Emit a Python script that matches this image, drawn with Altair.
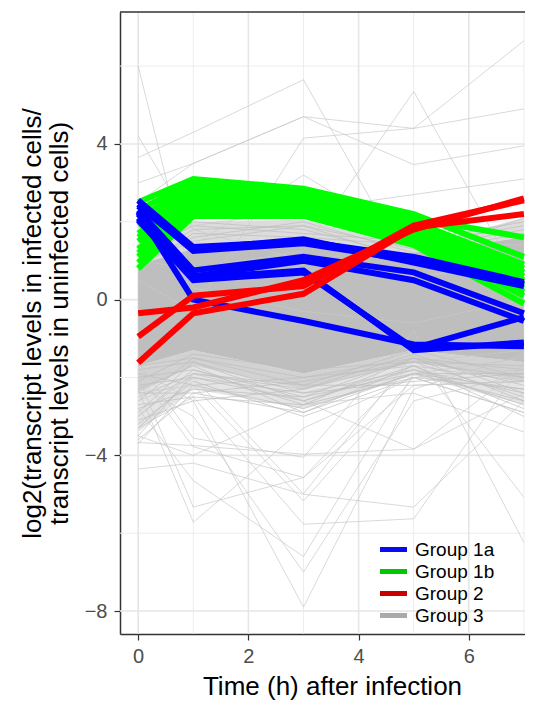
import altair as alt
import pandas as pd

times = [0, 1, 3, 5, 7]
groups = ["Group 1a", "Group 1b", "Group 2", "Group 3"]
legend_colors = ["#0A0AEE", "#00C800", "#C80000", "#AAAAAA"]

blue_lines = [
    [2.55, 1.35, 1.50, 1.10, 0.45],
    [2.45, 1.25, 1.45, 1.00, 0.40],
    [2.40, 1.30, 1.55, 0.95, 0.35],
    [2.30, 0.75, 1.10, 0.70, -0.35],
    [2.20, 0.60, 1.00, 0.50, -0.55],
    [2.10, 0.55, 0.75, -1.30, -1.10],
    [2.05, 0.50, 0.70, -1.25, -0.45],
    [2.25, 0.00, -0.55, -1.15, -1.20],
]
green_lines = [
    [2.50, 3.10, 2.85, 2.20, 1.10],
    [2.30, 3.00, 2.80, 2.10, 1.60],
    [2.10, 2.90, 2.75, 2.00, 0.90],
    [1.90, 2.80, 2.70, 1.95, 0.80],
    [1.70, 2.70, 2.60, 1.90, 0.70],
    [1.50, 2.60, 2.50, 1.80, 0.60],
    [1.30, 2.50, 2.40, 1.70, 0.40],
    [1.10, 2.35, 2.30, 1.60, 0.30],
    [0.95, 2.25, 2.20, 1.50, 0.10],
    [0.80, 2.15, 2.15, 1.40, -0.10],
    [1.20, 2.40, 2.50, 1.75, 0.50],
    [1.60, 2.55, 2.35, 1.65, 0.20],
]
red_lines = [
    [-0.35, -0.20, 0.50, 1.80, 2.60],
    [-0.95, 0.10, 0.35, 1.90, 2.55],
    [-1.62, -0.35, 0.15, 1.85, 2.20],
]
# density bands of the ~hundreds of Group 3 lines
gray_core_upper = [0.9, 1.3, 1.4, 1.2, 1.6]
gray_core_lower = [-1.7, -1.3, -1.9, -1.3, -1.6]
gray_semi_upper = [0.9, 2.0, 2.05, 1.35, 2.1]
gray_semi_mid = [-2.4, -1.7, -2.3, -1.6, -2.1]
gray_semi_lower = [-3.4, -2.3, -2.8, -1.95, -2.7]
gray_fringe_lines = [
    [-1.7, -1.5, -2.2, -1.3, -2.0],
    [-2.1, -1.4, -1.8, -1.6, -1.7],
    [-2.5, -1.9, -2.3, -1.4, -2.4],
    [-1.9, -2.2, -2.0, -1.5, -1.8],
    [-2.9, -1.6, -2.6, -1.7, -2.1],
    [-3.3, -2.0, -2.4, -1.8, -2.7],
    [-2.3, -1.7, -2.9, -1.9, -2.3],
    [-3.6, -2.4, -2.1, -1.6, -2.5],
    [-2.7, -2.5, -2.7, -2.0, -2.9],
    [-3.0, -1.8, -2.5, -1.5, -2.2],
    [-1.8, -1.6, -2.4, -2.1, -1.9],
    [-3.7, -2.2, -2.8, -1.9, -2.6],
    [-2.6, -1.5, -2.0, -1.7, -2.8],
    [-3.1, -2.6, -2.3, -1.6, -2.0],
    [-2.2, -2.0, -2.6, -1.8, -2.4],
    [-3.5, -1.9, -2.2, -2.2, -2.1],
    [-2.0, -1.8, -2.7, -1.5, -2.6],
    [-2.8, -2.3, -2.5, -1.9, -1.9],
    [-3.2, -2.1, -3.0, -2.0, -2.3],
    [-2.4, -2.4, -2.9, -1.7, -3.0],
    [1.0, 1.8, 1.9, 1.3, 1.8],
    [1.2, 1.9, 1.7, 1.5, 2.0],
    [0.9, 1.6, 2.0, 1.2, 1.7],
    [1.1, 2.0, 1.8, 1.1, 2.1],
    [0.8, 1.7, 1.6, 1.4, 1.9],
    [1.0, 1.5, 1.9, 1.0, 1.6],
]
gray_outlier_lines = [
    [6.00, 0.30, -0.30, -0.60, 0.00],
    [4.20, 1.80, 1.00, 0.60, 0.80],
    [3.65, 4.30, 5.65, 0.60, 0.90],
    [3.00, 3.50, 4.70, 4.40, 6.65],
    [2.50, 3.50, 4.70, 3.47, 3.95],
    [0.50, -0.30, 4.15, 4.40, 4.90],
    [1.00, 0.80, 1.25, 5.35, 0.30],
    [1.20, 1.40, 3.20, 1.50, 1.40],
    [1.60, 1.90, 2.30, 2.70, 3.10],
    [-3.67, -3.75, -3.97, -3.84, -2.40],
    [-4.35, -4.20, -5.00, -5.33, -2.60],
    [-2.30, -5.72, -3.30, -2.00, -1.80],
    [-2.00, -5.33, -4.57, -2.20, -2.10],
    [-2.80, -4.65, -6.60, -1.90, -1.50],
    [-1.80, -2.60, -7.90, -2.30, -1.40],
    [-2.20, -3.00, -7.00, -2.60, -1.90],
    [-3.30, -2.50, -5.77, -5.63, -1.60],
    [-1.60, -3.56, -4.05, -0.80, -6.24],
    [-2.60, -2.00, -4.99, -1.40, -5.08],
    [-3.00, -1.90, -2.60, -3.84, -1.70],
    [-1.90, -3.78, -4.57, -1.60, -1.30],
    [-2.40, -2.20, -5.17, -2.00, -2.90],
    [-3.50, -4.00, -2.70, -2.40, -3.40],
]

x_major = [0, 2, 4, 6]
x_minor = [1, 3, 5, 7]
y_major = [-8, -4, 0, 4]
y_minor = [-6, -2, 2, 6]

x_domain = [-0.33, 7.02]
y_domain = [-8.59, 7.39]


def to_long(lines, prefix):
    rows = []
    for i, vals in enumerate(lines):
        for t, v in zip(times, vals):
            rows.append({"id": f"{prefix}{i}", "time": t, "value": v})
    return pd.DataFrame(rows)


FONT = "Liberation Sans"
YS = alt.Scale(domain=y_domain, nice=False, zero=False)

X = alt.X(
    "time:Q",
    scale=alt.Scale(domain=x_domain, nice=False, zero=False),
    axis=alt.Axis(
        values=x_major, grid=False, format="d",
        labelFontSize=20, labelColor="#4D4D4D", labelPadding=6,
        tickSize=6, tickWidth=1.2, tickColor="#333333",
        domainColor="#333333", domainWidth=1.5,
        title="Time (h) after infection", titleFontSize=26, titleFontWeight="normal",
        titleColor="black", titleX=212, titleY=60, titleBaseline="alphabetic",
    ),
)
Y = alt.Y(
    "value:Q",
    scale=YS,
    axis=alt.Axis(
        values=y_major, grid=False, format="d",
        labelFontSize=20, labelColor="#4D4D4D", labelPadding=7,
        tickSize=6, tickWidth=1.2, tickColor="#333333",
        domainColor="#333333", domainWidth=1.5,
        title=["log2(transcript levels in infected cells/",
               "transcript levels in uninfected cells)"],
        titleFontSize=26, titleFontWeight="normal", titleColor="black",
        titleLineHeight=27, titleX=-88, titleY=311, titleBaseline="middle",
        titleAlign="center",
    ),
)

vgrid = pd.DataFrame({"time": x_major + x_minor,
                      "kind": ["major"] * len(x_major) + ["minor"] * len(x_minor)})
hgrid = pd.DataFrame({"value": y_major + y_minor,
                      "kind": ["major"] * len(y_major) + ["minor"] * len(y_minor)})

vgrid_major = alt.Chart(vgrid).transform_filter("datum.kind == 'major'").mark_rule(
    color="#E6E6E6", strokeWidth=1.6).encode(x=X)
vgrid_minor = alt.Chart(vgrid).transform_filter("datum.kind == 'minor'").mark_rule(
    color="#EDEDED", strokeWidth=1.0).encode(x=X)
hgrid_major = alt.Chart(hgrid).transform_filter("datum.kind == 'major'").mark_rule(
    color="#E6E6E6", strokeWidth=1.6).encode(y=Y)
hgrid_minor = alt.Chart(hgrid).transform_filter("datum.kind == 'minor'").mark_rule(
    color="#EDEDED", strokeWidth=1.0).encode(y=Y)

band_df = pd.DataFrame({
    "time": times,
    "core_lo": gray_core_lower, "core_hi": gray_core_upper,
    "semi_hi": gray_semi_upper, "semi_mid": gray_semi_mid, "semi_lo": gray_semi_lower,
})
band_outer = alt.Chart(band_df).mark_area(color="#E4E4E4").encode(
    x=X, y=alt.Y("semi_lo:Q", scale=YS), y2="semi_mid:Q")
band_inner = alt.Chart(band_df).mark_area(color="#D2D2D2").encode(
    x=X, y=alt.Y("semi_mid:Q", scale=YS), y2="core_lo:Q")
band_top = alt.Chart(band_df).mark_area(color="#DCDCDC").encode(
    x=X, y=alt.Y("core_hi:Q", scale=YS), y2="semi_hi:Q")
core = alt.Chart(band_df).mark_area(color="#BEBEBE").encode(
    x=X, y=alt.Y("core_lo:Q", scale=YS), y2="core_hi:Q")

fringe = alt.Chart(to_long(gray_fringe_lines, "f")).mark_line(
    color="#BDBDBD", strokeWidth=0.7).encode(x=X, y=Y, detail="id:N")
outliers = alt.Chart(to_long(gray_outlier_lines, "o")).mark_line(
    color="#C8C8C8", strokeWidth=0.7).encode(x=X, y=Y, detail="id:N")
green = alt.Chart(to_long(green_lines, "g")).mark_line(
    color="#00FF00", strokeWidth=6).encode(x=X, y=Y, detail="id:N")
blue = alt.Chart(to_long(blue_lines, "b")).mark_line(
    color="#0000FF", strokeWidth=6).encode(x=X, y=Y, detail="id:N")
red = alt.Chart(to_long(red_lines, "r")).mark_line(
    color="#FF0000", strokeWidth=6).encode(x=X, y=Y, detail="id:N")

legend_df = pd.DataFrame({"group": groups, "time": [0] * 4, "value": [0.0] * 4})
legend_layer = alt.Chart(legend_df).mark_line(strokeWidth=5).encode(
    x=X, y=Y,
    color=alt.Color(
        "group:N",
        scale=alt.Scale(domain=groups, range=legend_colors),
        legend=alt.Legend(
            orient="none", legendX=260, legendY=526, title=None,
            symbolType="M-1.28,0L1.72,0", symbolSize=324, symbolStrokeWidth=5,
            labelFontSize=19, labelFont=FONT, labelColor="black",
            labelOffset=12, rowPadding=-1, padding=0,
        ),
    ),
)

top_border = alt.Chart(legend_df.head(1)).mark_rule(
    color="#333333", strokeWidth=1.5).encode(
    y=alt.value(0), x=alt.value(0), x2=alt.value(405))

chart = alt.layer(
    vgrid_minor, hgrid_minor, vgrid_major, hgrid_major,
    band_outer, band_inner, band_top, core, fringe, outliers,
    green, blue, red, legend_layer, top_border,
).properties(
    width=405, height=622,
    padding={"left": 112, "top": 4, "right": 0, "bottom": 66},
    autosize=alt.AutoSizeParams(type="none"),
).configure(font=FONT).configure_view(strokeWidth=0).configure_axis(
    labelFont=FONT, titleFont=FONT,
)

chart.save("out.html", embed_options={"renderer": "svg", "actions": False})
